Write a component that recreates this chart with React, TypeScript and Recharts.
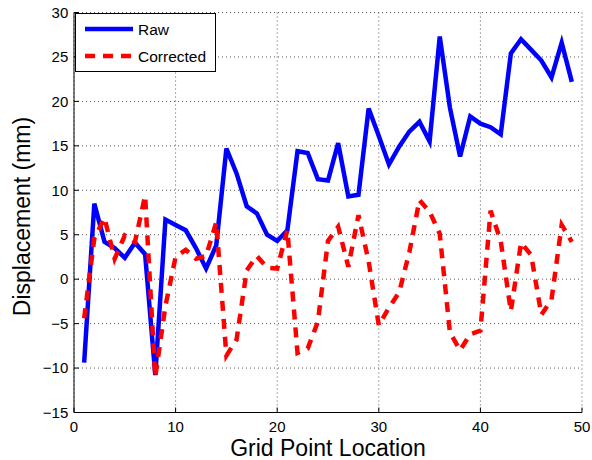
import React from 'react';
import { LineChart, Line, XAxis, YAxis, CartesianGrid, Legend } from 'recharts';

const gridPoints = [1, 2, 3, 4, 5, 6, 7, 8, 9, 10, 11, 12, 13, 14, 15, 16, 17, 18, 19, 20, 21, 22, 23, 24, 25, 26, 27, 28, 29, 30, 31, 32, 33, 34, 35, 36, 37, 38, 39, 40, 41, 42, 43, 44, 45, 46, 47, 48, 49];

const rawValues = [-9.4, 8.5, 4.2, 3.5, 2.4, 4.1, 2.8, -10.8, 6.7, 6.1, 5.5, 3.5, 1.2, 3.8, 14.7, 11.9, 8.2, 7.4, 5.0, 4.3, 5.5, 14.4, 14.2, 11.25, 11.1, 15.3, 9.3, 9.5, 19.2, 16.1, 12.9, 14.9, 16.6, 17.7, 15.5, 27.3, 19.3, 13.8, 18.3, 17.5, 17.1, 16.3, 25.4, 27.0, 25.8, 24.6, 22.7, 26.6, 22.2];

const correctedValues = [-4.4, 4.6, 6.9, 2.3, 4.9, 4.2, 9.4, -11.0, -3.0, 2.5, 3.3, 2.3, 2.6, 6.4, -8.6, -6.8, 1.0, 2.6, 1.3, 1.2, 5.5, -8.3, -7.8, -4.8, 4.3, 5.9, 1.4, 7.2, 2.0, -5.2, -3.2, -1.5, 3.0, 8.9, 7.6, 5.1, -6.0, -8.0, -6.2, -5.8, 7.7, 4.3, -3.6, 4.1, 2.7, -4.0, -2.3, 6.1, 4.2];

const xTicks = [0, 10, 20, 30, 40, 50];
const yTicks = [-15, -10, -5, 0, 5, 10, 15, 20, 25, 30];

const seriesNames = { raw: 'Raw', corrected: 'Corrected' };
const legendOrder = [seriesNames.raw, seriesNames.corrected];
const xTitle = 'Grid Point Location';
const yTitle = 'Displacement (mm)';

const data = gridPoints.map((x, i) => ({ x, raw: rawValues[i], corrected: correctedValues[i] }));

const FONT = '"Liberation Sans", Arial, Helvetica, sans-serif';

const fmt = (v: number) => (v < 0 ? '\u2212' + Math.abs(v) : String(v));

const LegendBox = (props: any) => {
  const payload = [...(props.payload || [])].sort(
    (a: any, b: any) => legendOrder.indexOf(a.value) - legendOrder.indexOf(b.value)
  );
  return (
    <svg width={141} height={59} style={{ display: 'block', fontFamily: FONT }}>
      <rect x={0.5} y={0.5} width={140} height={58} fill="#fff" stroke="#000" strokeWidth={1} />
      {payload.map((entry: any, i: number) => {
        const cy = 16 + i * 27;
        const dash = entry?.payload?.strokeDasharray;
        return (
          <g key={i}>
            <line x1={10} x2={58} y1={cy} y2={cy} stroke={entry.color} strokeWidth={4.5} strokeDasharray={dash} />
            <text x={63} y={cy + 5.5} fontSize={15.5} fill="#000">{entry.value}</text>
          </g>
        );
      })}
    </svg>
  );
};

const YTitle = (props: any) => {
  const vb = props.viewBox || { x: 0, y: 0, width: 74, height: 400 };
  const cx = vb.x + 29.5;
  const cy = vb.y + vb.height / 2 + 4;
  return (
    <text x={cx} y={cy} transform={`rotate(-90, ${cx}, ${cy})`} textAnchor="middle" fontSize={23} fill="#000" fontFamily={FONT}>
      {yTitle}
    </text>
  );
};

const XTitle = (props: any) => {
  const vb = props.viewBox || { x: 74, y: 412, width: 508, height: 48 };
  const cx = vb.x + vb.width / 2;
  const cy = 455.7;
  return (
    <text x={cx} y={cy} textAnchor="middle" fontSize={23} fill="#000" fontFamily={FONT}>
      {xTitle}
    </text>
  );
};

export default function App() {
  return (
    <div style={{ position: 'absolute', left: 0, top: 0, width: 592, height: 460, background: '#fff' }}>
      <LineChart
        width={592}
        height={460}
        data={data}
        margin={{ top: 12.5, right: 10, left: 0, bottom: 0 }}
        style={{ fontFamily: FONT }}
      >
        <CartesianGrid stroke="#555" strokeDasharray="1 3" strokeWidth={1} />
        <XAxis
          dataKey="x"
          type="number"
          domain={[0, 50]}
          ticks={xTicks}
          height={47.5}
          tickSize={-5}
          tickMargin={14}
          stroke="#000"
          tick={{ fontSize: 15, fill: '#000', fontFamily: FONT }}
          allowDataOverflow
          label={<XTitle />}
        />
        <XAxis
          xAxisId="top"
          orientation="top"
          dataKey="x"
          type="number"
          domain={[0, 50]}
          ticks={xTicks}
          height={0}
          tickSize={-5}
          tick={false}
          stroke="#000"
        />
        <YAxis
          type="number"
          domain={[-15, 30]}
          ticks={yTicks}
          width={74}
          tickSize={-5}
          tickMargin={10.7}
          stroke="#000"
          tickFormatter={fmt}
          tick={{ fontSize: 15, fill: '#000', fontFamily: FONT }}
          allowDataOverflow
          label={<YTitle />}
        />
        <YAxis
          yAxisId="right"
          orientation="right"
          type="number"
          domain={[-15, 30]}
          ticks={yTicks}
          width={0}
          tickSize={-5}
          tick={false}
          stroke="#000"
        />
        <Legend
          layout="vertical"
          align="center"
          verticalAlign="middle"
          content={<LegendBox />}
          wrapperStyle={{ position: 'absolute', left: 75, top: 13, width: 141, height: 59 }}
        />
        <Line
          type="linear"
          dataKey="raw"
          name={seriesNames.raw}
          stroke="#0000ff"
          strokeWidth={4.5}
          dot={false}
          activeDot={false}
          isAnimationActive={false}
        />
        <Line
          type="linear"
          dataKey="corrected"
          name={seriesNames.corrected}
          stroke="#ff0000"
          strokeWidth={4.5}
          strokeDasharray="10 8"
          dot={false}
          activeDot={false}
          isAnimationActive={false}
        />
      </LineChart>
    </div>
  );
}
